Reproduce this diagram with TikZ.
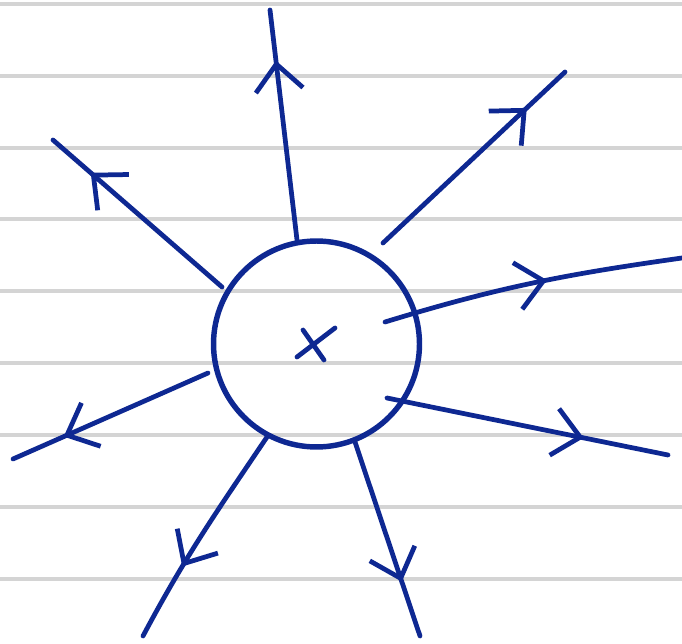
\documentclass[tikz,border=0pt]{standalone}
\usepackage{tikz}
\usetikzlibrary{arrows.meta,decorations.markings}
\definecolor{ink}{RGB}{14,40,146}
\definecolor{rule}{RGB}{212,212,212}

\begin{document}
\begin{tikzpicture}[x=0.02cm,y=-0.02cm,line cap=round,line join=round,
    flow/.style={postaction={decorate,decoration={markings,
        mark=at position #1 with {\arrow{Straight Barb[length=15pt,width=27pt]}}}}},
    ray/.style={ink,line width=2.7pt}]
          \useasboundingbox (0,0) rectangle (682,644);
          \fill[white] (0,0) rectangle (682,644);
          % ruled paper
          \foreach \y in {4,76,148,219,291,363,435,507,579}
            \draw[rule,line width=1.8pt,line cap=butt] (0,\y) -- (682,\y);
          \node (src) [circle,draw=ink,line width=3.1pt,inner sep=0pt,minimum size=4.12cm] at (316.5,344) {};
          \draw[ray] (303,330) -- (324,360) (297,357) -- (335,328);
          \coordinate (i1) at (297,240); \coordinate (o1) at (270,10);
          \coordinate (i2) at (383,243); \coordinate (o2) at (565,72);
          \coordinate (i3) at (222,287); \coordinate (o3) at (53,140);
          \coordinate (i4) at (385,322); \coordinate (o4) at (682,258);
          \coordinate (i5) at (387,398); \coordinate (o5) at (668,455);
          \coordinate (i6) at (355,442); \coordinate (o6) at (420,636);
          \coordinate (i7) at (267,437); \coordinate (o7) at (143,636);
          \coordinate (i8) at (208,373); \coordinate (o8) at (13,459);
          \draw[ray,flow=0.78] (i1)--(o1);
          \draw[ray,flow=0.79] (i2)--(o2);
          \draw[ray,flow=0.78] (i3)--(o3);
          \draw[ray,flow=0.55] (i4) to[out=17,in=188] (o4);
          \draw[ray,flow=0.70] (i5)--(o5);
          \draw[ray,flow=0.72] (i6)--(o6);
          \draw[ray,flow=0.66] (i7) to[out=236,in=62] (o7);
          \draw[ray,flow=0.74] (i8)--(o8);
        \end{tikzpicture}
\end{document}
